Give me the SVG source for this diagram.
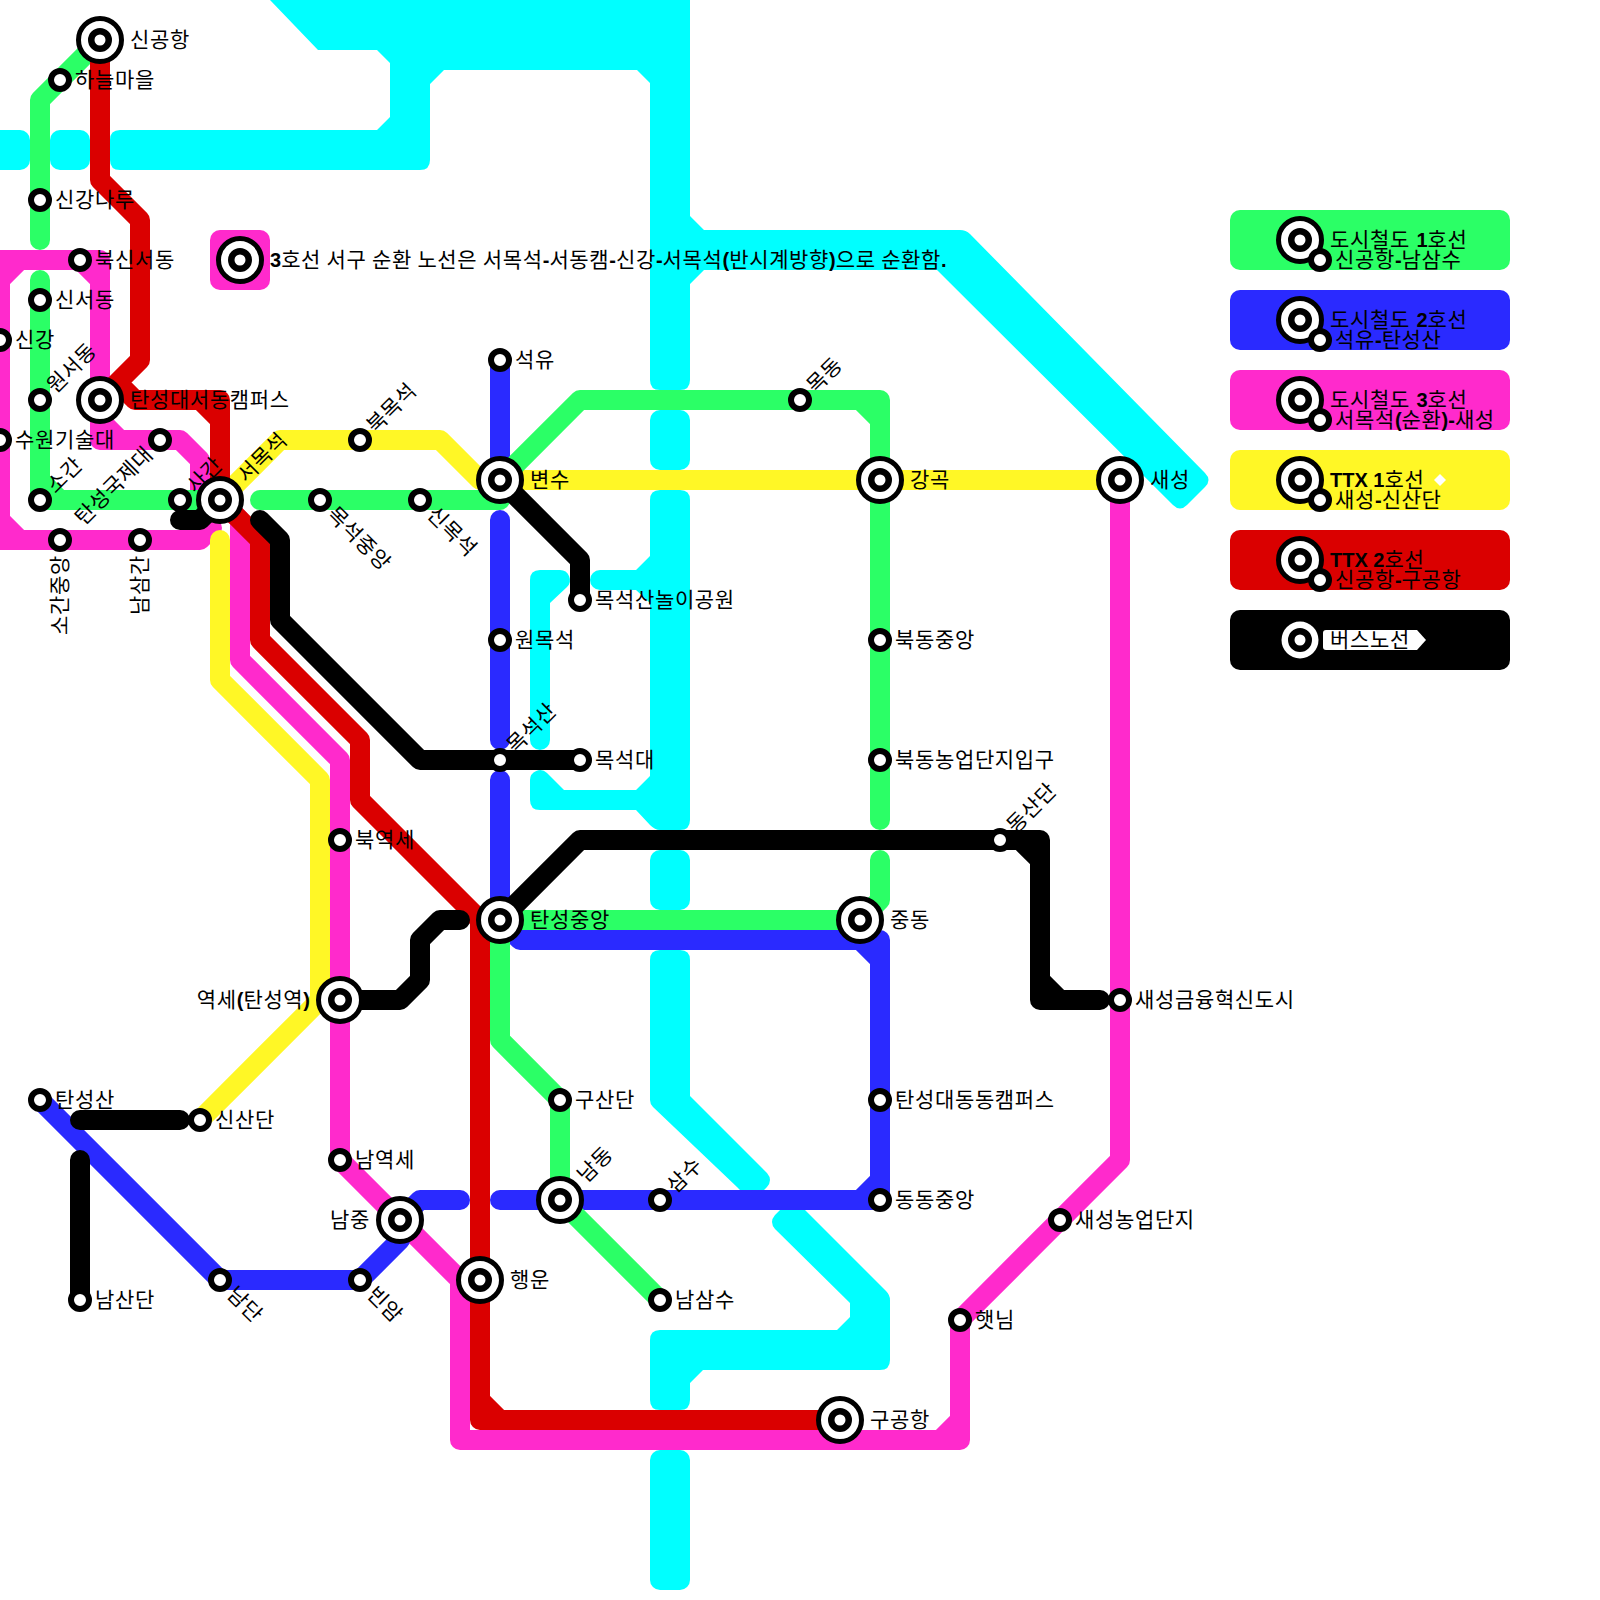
<svg xmlns="http://www.w3.org/2000/svg" width="1600" height="1600" viewBox="0 0 1600 1600">
<style>
.l{fill:none;stroke-width:20;stroke-linecap:round;stroke-linejoin:round}
.t{font-family:"Liberation Sans","Noto Sans CJK KR",sans-serif;font-size:21px;letter-spacing:.65px;fill:#000}
.b{font-weight:bold;font-size:20px;letter-spacing:0}
.e{text-anchor:end}
.c{fill:#0ff}
.o{fill:#fff;stroke:#000;stroke-width:5}
.i{fill:#fff;stroke:#000;stroke-width:6}
.j{fill:#fff;stroke:#000;stroke-width:6.5}
</style>
<defs>
<g id="st"><circle r="9" class="i"/></g>
<g id="ic"><circle r="21.5" class="o"/><circle r="8.75" class="j"/></g>
</defs>
<rect width="1600" height="1600" fill="#fff"/>
<g id="connectors">
<g id="line-cyan">
<rect class="c" x="-20" y="130" width="50" height="40" rx="10"/>
<rect class="c" x="50" y="130" width="40" height="40" rx="10"/>
<path class="c" d="M270,0H690V216L704,230H960Q966,230 970,234L1205,473Q1212,480 1205,487L1187,505Q1180,512 1173,505L937,270H704L690,284V380Q690,390 680,390H660Q650,390 650,380V83L637,70H444L430,84V160Q430,170 420,170H120Q110,170 110,160V140Q110,130 120,130H377L390,117V63L377,50H318Z"/>
<rect class="c" x="650" y="410" width="40" height="60" rx="10"/>
<path class="c" d="M660,490H680Q690,490 690,500V820Q690,830 680,830H660Q655,830 650,825L636,810H540Q530,810 530,800V780A10,10 0 0 1 547,773L564,790H636L650,776V603L636,590H600A10,10 0 0 1 600,570H636L650,556V500Q650,490 660,490Z"/>
<path class="c" d="M550,603V740A10,10 0 0 1 530,740V580Q530,570 540,570H560A10,10 0 0 1 567,587Z"/>
<rect class="c" x="650" y="850" width="40" height="60" rx="10"/>
<path class="c" d="M660,950H680Q690,950 690,960V1096L767,1173Q773,1180 767,1187L752,1202L737,1187L653,1107Q650,1104 650,1100V960Q650,950 660,950Z"/>
<path class="c" d="M795,1200L886,1291Q890,1295 890,1300V1360Q890,1370 880,1370H703L690,1383V1400Q690,1410 680,1410H660Q650,1410 650,1400V1340Q650,1330 660,1330H837L850,1317V1303L775,1229Q769,1222 775,1215L790,1200Z"/>
<rect class="c" x="650" y="1450" width="40" height="140" rx="10"/>
</g>
<path id="line-3" class="l" stroke="#ff2acc" d="M100,400V260H0V540H200L212,528M80,260L100,280M0,280L20,260M0,520L20,540M100,400V440H180L200,460V500H220M220,500L240,520V660L340,760V1160L460,1280V1440H960V1320L1120,1160V480M100,420L120,440M940,1440L960,1420"/>
<path id="line-ttx1" class="l" stroke="#fff726" d="M220,500L280,440H440L480,480H1120M220,540V680L320,780V1000L200,1120M320,1000H340"/>
<path id="line-2" class="l" stroke="#2a2aff" d="M500,360V480M500,520V740M500,780V920L520,940H880V1200H500M860,940L880,960M880,1180L860,1200M460,1200H420L400,1220V1240L360,1280H220L40,1100"/>
<path id="line-1" class="l" stroke="#2bff66" d="M100,40L40,100V240M40,280V500H220M40,480L60,500M260,500H500M500,480L580,400H880V820M860,400L880,420M880,860V900L860,920H500V1040L560,1100V1200L660,1300"/>
<path id="line-ttx2" class="l" stroke="#da0000" d="M100,40V180L140,220V360L100,400M120,385L135,400H220V500L260,540V640L360,740V800L480,920V1420H840M200,400L220,420M480,1400L500,1420"/>
<path id="line-bus" class="l" stroke="#000" d="M180,520H200L220,500M260,520L280,540V620L420,760H580M500,480L580,560V600M500,920L580,840H1040V1000H1100M1020,840L1040,860M1040,980L1060,1000M340,1000H400L420,980V940L440,920H460M80,1120H180M80,1160V1300"/>
</g>
<g id="n-harul"><use href="#st" x="60" y="80"/><text class="t" x="75" y="87">하늘마을</text></g>
<g id="n-singangnaru"><use href="#st" x="40" y="200"/><text class="t" x="55" y="207">신강나루</text></g>
<g id="n-buksinseo"><use href="#st" x="80" y="260"/><text class="t" x="95" y="267">북신서동</text></g>
<g id="n-sinseo"><use href="#st" x="40" y="300"/><text class="t" x="55" y="307">신서동</text></g>
<g id="n-singang"><use href="#st" x="0" y="340"/><text class="t" x="15" y="347">신강</text></g>
<g id="n-wonseo"><use href="#st" x="40" y="400"/><text class="t" transform="translate(40,400) rotate(-45)" x="15" y="7">원서동</text></g>
<g id="n-suwon"><use href="#st" x="0" y="440"/><text class="t" x="15" y="447">수원기술대</text></g>
<g id="n-sogan"><use href="#st" x="40" y="500"/><text class="t" transform="translate(40,500) rotate(-45)" x="15" y="7">소간</text></g>
<g id="n-intl"><use href="#st" x="160" y="440"/><text class="t e" transform="translate(160,440) rotate(-45)" x="-15" y="7">탄성국제대</text></g>
<g id="n-sagan"><use href="#st" x="180" y="500"/><text class="t" transform="translate(180,500) rotate(-45)" x="15" y="7">사간</text></g>
<g id="n-soganc"><use href="#st" x="60" y="540"/><text class="t e" transform="translate(60,540) rotate(-90)" x="-15" y="7">소간중앙</text></g>
<g id="n-namsamgan"><use href="#st" x="140" y="540"/><text class="t e" transform="translate(140,540) rotate(-90)" x="-15" y="7">남삼간</text></g>
<g id="n-bukmok"><use href="#st" x="360" y="440"/><text class="t" transform="translate(360,440) rotate(-45)" x="15" y="7">북목석</text></g>
<g id="n-mokc"><use href="#st" x="320" y="500"/><text class="t" transform="translate(320,500) rotate(45)" x="15" y="7">목석중앙</text></g>
<g id="n-sinmok"><use href="#st" x="420" y="500"/><text class="t" transform="translate(420,500) rotate(45)" x="15" y="7">신목석</text></g>
<g id="n-seogyu"><use href="#st" x="500" y="360"/><text class="t" x="515" y="367">석유</text></g>
<g id="n-wonmok"><use href="#st" x="500" y="640"/><text class="t" x="515" y="647">원목석</text></g>
<g id="n-moksan"><use href="#st" x="500" y="760"/><text class="t" transform="translate(500,760) rotate(-45)" x="15" y="7">목석산</text></g>
<g id="n-mokdae"><use href="#st" x="580" y="760"/><text class="t" x="595" y="767">목석대</text></g>
<g id="n-park"><use href="#st" x="580" y="600"/><text class="t" x="595" y="607">목석산놀이공원</text></g>
<g id="n-mokdong"><use href="#st" x="800" y="400"/><text class="t" transform="translate(800,400) rotate(-45)" x="15" y="7">목동</text></g>
<g id="n-bukc"><use href="#st" x="880" y="640"/><text class="t" x="895" y="647">북동중앙</text></g>
<g id="n-bukn"><use href="#st" x="880" y="760"/><text class="t" x="895" y="767">북동농업단지입구</text></g>
<g id="n-dongsan"><use href="#st" x="1000" y="840"/><text class="t" transform="translate(1000,840) rotate(-45)" x="15" y="7">동산단</text></g>
<g id="n-finance"><use href="#st" x="1120" y="1000"/><text class="t" x="1135" y="1007">새성금융혁신도시</text></g>
<g id="n-agri"><use href="#st" x="1060" y="1220"/><text class="t" x="1075" y="1227">새성농업단지</text></g>
<g id="n-haet"><use href="#st" x="960" y="1320"/><text class="t" x="975" y="1327">햇님</text></g>
<g id="n-bukyeok"><use href="#st" x="340" y="840"/><text class="t" x="355" y="847">북역세</text></g>
<g id="n-sinsan"><use href="#st" x="200" y="1120"/><text class="t" x="215" y="1127">신산단</text></g>
<g id="n-tansan"><use href="#st" x="40" y="1100"/><text class="t" x="55" y="1107">탄성산</text></g>
<g id="n-namsan"><use href="#st" x="80" y="1300"/><text class="t" x="95" y="1307">남산단</text></g>
<g id="n-namdan"><use href="#st" x="220" y="1280"/><text class="t" transform="translate(220,1280) rotate(45)" x="15" y="7">남단</text></g>
<g id="n-binam"><use href="#st" x="360" y="1280"/><text class="t" transform="translate(360,1280) rotate(45)" x="15" y="7">빈암</text></g>
<g id="n-namyeok"><use href="#st" x="340" y="1160"/><text class="t" x="355" y="1167">남역세</text></g>
<g id="n-gusan"><use href="#st" x="560" y="1100"/><text class="t" x="575" y="1107">구산단</text></g>
<g id="n-samsu"><use href="#st" x="660" y="1200"/><text class="t" transform="translate(660,1200) rotate(-45)" x="15" y="7">삼수</text></g>
<g id="n-namsamsu"><use href="#st" x="660" y="1300"/><text class="t" x="675" y="1307">남삼수</text></g>
<g id="n-dongcampus"><use href="#st" x="880" y="1100"/><text class="t" x="895" y="1107">탄성대동동캠퍼스</text></g>
<g id="n-dongc"><use href="#st" x="880" y="1200"/><text class="t" x="895" y="1207">동동중앙</text></g>
<g id="n-singong"><use href="#ic" x="100" y="40"/><text class="t" x="130" y="47">신공항</text></g>
<g id="n-seocampus"><use href="#ic" x="100" y="400"/><text class="t" x="130" y="407">탄성대서동캠퍼스</text></g>
<g id="n-seomok"><use href="#ic" x="220" y="500"/><text class="t" transform="translate(220,500) rotate(-45)" x="30" y="7">서목석</text></g>
<g id="n-byeonsu"><use href="#ic" x="500" y="480"/><text class="t" x="530" y="487">변수</text></g>
<g id="n-ganggok"><use href="#ic" x="880" y="480"/><text class="t" x="910" y="487">강곡</text></g>
<g id="n-saeseong"><use href="#ic" x="1120" y="480"/><text class="t" x="1150" y="487">새성</text></g>
<g id="n-tanc"><use href="#ic" x="500" y="920"/><text class="t" x="530" y="927">탄성중앙</text></g>
<g id="n-jungdong"><use href="#ic" x="860" y="920"/><text class="t" x="890" y="927">중동</text></g>
<g id="n-yeokse"><use href="#ic" x="340" y="1000"/><text class="t e" x="310" y="1007">역세<tspan class="b">(</tspan>탄성역<tspan class="b">)</tspan></text></g>
<g id="n-namjung"><use href="#ic" x="400" y="1220"/><text class="t e" x="370" y="1227">남중</text></g>
<g id="n-namdong"><use href="#ic" x="560" y="1200"/><text class="t" transform="translate(560,1200) rotate(-45)" x="30" y="7">남동</text></g>
<g id="n-haengun"><use href="#ic" x="480" y="1280"/><text class="t" x="510" y="1287">행운</text></g>
<g id="n-gugong"><use href="#ic" x="840" y="1420"/><text class="t" x="870" y="1427">구공항</text></g>
<g id="note">
<rect x="210" y="230" width="60" height="60" rx="10" fill="#ff2acc"/>
<use href="#ic" x="240" y="260"/>
<text class="t" x="270" y="267" word-spacing="-1"><tspan class="b">3</tspan>호선 서구 순환 노선은 서목석<tspan class="b">-</tspan>서동캠<tspan class="b">-</tspan>신강<tspan class="b">-</tspan>서목석<tspan class="b">(</tspan>반시계방향<tspan class="b">)</tspan>으로 순환함<tspan class="b">.</tspan></text>
</g>
<g id="legend-1">
<rect x="1230" y="210" width="280" height="60" rx="10" fill="#2bff66"/>
<use href="#ic" x="1300" y="240"/><use href="#st" x="1320" y="260"/>
<text class="t" x="1330" y="247">도시철도 <tspan class="b">1</tspan>호선</text>
<text class="t" x="1335" y="267">신공항<tspan class="b">-</tspan>남삼수</text>
</g>
<g id="legend-2">
<rect x="1230" y="290" width="280" height="60" rx="10" fill="#2a2aff"/>
<use href="#ic" x="1300" y="320"/><use href="#st" x="1320" y="340"/>
<text class="t" x="1330" y="327">도시철도 <tspan class="b">2</tspan>호선</text>
<text class="t" x="1335" y="347">석유<tspan class="b">-</tspan>탄성산</text>
</g>
<g id="legend-3">
<rect x="1230" y="370" width="280" height="60" rx="10" fill="#ff2acc"/>
<use href="#ic" x="1300" y="400"/><use href="#st" x="1320" y="420"/>
<text class="t" x="1330" y="407">도시철도 <tspan class="b">3</tspan>호선</text>
<text class="t" x="1335" y="427">서목석<tspan class="b">(</tspan>순환<tspan class="b">)-</tspan>새성</text>
</g>
<g id="legend-ttx1">
<rect x="1230" y="450" width="280" height="60" rx="10" fill="#fff726"/>
<use href="#ic" x="1300" y="480"/><use href="#st" x="1320" y="500"/>
<path d="M1440,474L1446,480L1440,486L1434,480Z" fill="#fff"/>
<text class="t" x="1330" y="487"><tspan class="b">TTX 1</tspan>호선</text>
<text class="t" x="1335" y="507">새성<tspan class="b">-</tspan>신산단</text>
</g>
<g id="legend-ttx2">
<rect x="1230" y="530" width="280" height="60" rx="10" fill="#da0000"/>
<use href="#ic" x="1300" y="560"/><use href="#st" x="1320" y="580"/>
<text class="t" x="1330" y="567"><tspan class="b">TTX 2</tspan>호선</text>
<text class="t" x="1335" y="587">신공항<tspan class="b">-</tspan>구공항</text>
</g>
<g id="legend-bus">
<rect x="1230" y="610" width="280" height="60" rx="10" fill="#000"/>
<circle cx="1300" cy="640" r="18.5" fill="#fff"/><circle cx="1300" cy="640" r="8.75" class="j"/>
<path d="M1326,630H1417L1426,640L1417,650H1326Q1323,650 1323,647V633Q1323,630 1326,630Z" fill="#fff"/>
<text class="t" x="1330" y="647">버스노선</text>
</g>
</svg>
